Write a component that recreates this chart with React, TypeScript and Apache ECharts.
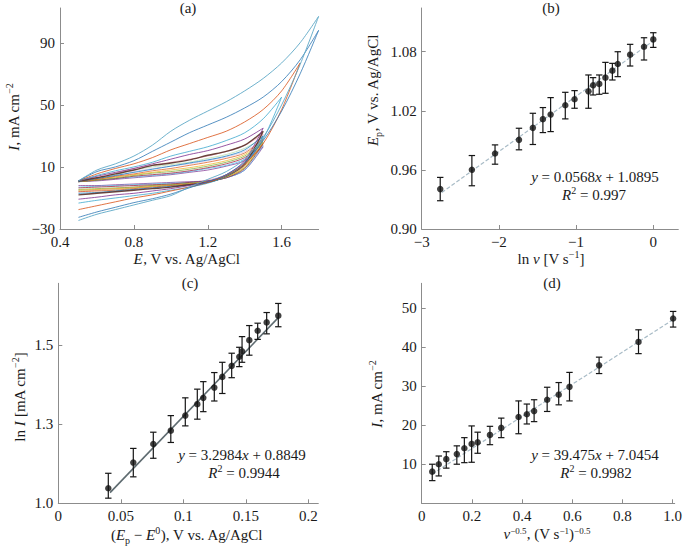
import React, { useEffect, useRef } from 'react';
import * as echarts from 'echarts';

const FONT = "'Liberation Serif', 'Times New Roman', serif";
const TXT = '#1a1a1a';
const AXC = '#8c8c8c';

// ---------- Panel (a): cyclic voltammograms ----------
const E_GRID = [0.5, 0.6, 0.7, 0.8, 0.9, 1.0, 1.1, 1.2, 1.3, 1.4, 1.5, 1.6, 1.7, 1.8];
const cv1Fwd = [1, 8, 12, 17, 24, 33, 40, 46, 52, 59, 67, 77, 90, 107];
const cv1Rev = [107, 76, 50, 29, 15, 7, 2, -3, -8.5, -11.5, -14.5, -17.5, -20.5, -24.5];
const cv2Fwd = [1, 7, 10, 14, 20, 26, 32, 37, 42, 48, 55, 65, 79, 98];
const cv2Rev = [98, 70, 46, 27, 13, 5, 0.5, -3.5, -7.5, -10.5, -13, -16, -19, -22.5];
const cv3Fwd = [1, 5.5, 9, 12, 16, 21, 25, 29, 33, 39, 47, 59, 77];
const cv3Rev = [77, 47, 25, 12, 4.5, 0, -3, -5.5, -8, -10, -12.5, -15, -17.5];
const cv4Fwd = [1, 4.5, 7.5, 10, 13, 17, 20, 23, 27, 32, 41, 55];
const cv4Rev = [55, 28, 12, 4, -0.5, -3, -5, -7, -8.5, -10, -11.5, -13.3];
const cv5Fwd = [1, 4, 6.5, 9, 12, 15, 18, 20.5, 24, 28, 35];
const cv5Rev = [35, 14, 5, 0.5, -2, -4, -5.5, -7, -8, -9.5, -10.8];
const cv6Fwd = [1, 3, 5.5, 8, 11, 12.5, 14.5, 17.5, 20, 24, 33];
const cv6Rev = [33, 12, 4, 0, -1.5, -3, -4, -5, -6, -7, -8];
const cv7Fwd = [0.5, 2.5, 4.5, 6.5, 8.5, 10.5, 12.5, 14.5, 17, 21, 30];
const cv7Rev = [30, 12, 4, 0, -1.5, -2.5, -3.5, -4.5, -5.5, -6.5, -7];
const cv8Fwd = [0.5, 2, 4, 5.5, 7.5, 9, 11, 13, 15.5, 19, 28];
const cv8Rev = [28, 11, 4, 0.5, -1, -2, -3, -4, -5, -5.5, -6];
const cv9Fwd = [0.5, 2, 3.5, 5, 6.5, 8, 9.5, 11.5, 14, 18, 27];
const cv9Rev = [27, 10, 3.5, 0.5, -1, -2, -2.5, -3.5, -4, -4.5, -5];
const cv10Fwd = [0.5, 1.5, 3, 4.5, 6, 7, 8.5, 10.5, 13, 17, 26];
const cv10Rev = [26, 9.5, 3.5, 0.5, -0.5, -1.5, -2, -3, -3.5, -4, -4.5];
const cv11Fwd = [0.5, 1.5, 2.5, 4, 5, 6, 7.5, 9.5, 12, 16, 25];
const cv11Rev = [25, 9, 3, 1, 0, -1, -1.5, -2, -2.5, -3, -3.5];
const cv12Fwd = [0.5, 1.5, 2.5, 3.5, 4.5, 5.5, 7, 9, 11, 15, 24];
const cv12Rev = [24, 8, 3, 1, 0, -0.5, -1, -1.5, -2, -2.5, -3];
const cv13Fwd = [0.5, 1, 2, 3, 4, 5, 6.5, 8, 10.5, 14, 23];
const cv13Rev = [23, 8, 3, 1, 0.5, 0, -0.5, -1, -1.5, -2, -2];
const cv14Fwd = [1, 3, 6, 9, 11, 13, 15, 17, 20, 24, 31];
const cv14Rev = [31, 13, 5, 1.5, 0, -1, -2, -3, -4, -5, -6];
const cv15Fwd = [1, 2.5, 5, 8, 10, 11.5, 13, 15.5, 18, 22, 29];
const cv15Rev = [29, 11, 4, 1, -0.5, -1.5, -2.5, -3.5, -4.5, -5, -5.5];
const cv16Fwd = [1, 2, 4, 7, 9, 10.5, 12, 14, 16.5, 20, 28];
const cv16Rev = [28, 10.5, 3.5, 0.8, -0.5, -1.2, -2, -3, -3.8, -4.5, -5];

const CV_LIST: [number[], number[], string, number][] = [
  [cv16Fwd, cv16Rev, '#d6c7e6', 0.9],
  [cv15Fwd, cv15Rev, '#b9dcb0', 0.9],
  [cv14Fwd, cv14Rev, '#f2a7b8', 0.9],
  [cv13Fwd, cv13Rev, '#7E2F8E', 0.8],
  [cv12Fwd, cv12Rev, '#4DBEEE', 0.8],
  [cv11Fwd, cv11Rev, '#A2142F', 0.8],
  [cv10Fwd, cv10Rev, '#77AC30', 0.8],
  [cv9Fwd, cv9Rev, '#EDB120', 0.8],
  [cv8Fwd, cv8Rev, '#D95319', 0.8],
  [cv7Fwd, cv7Rev, '#0072BD', 0.8],
  [cv6Fwd, cv6Rev, '#5a3028', 1.4],
  [cv5Fwd, cv5Rev, '#7E2F8E', 0.9],
  [cv4Fwd, cv4Rev, '#3fa9cf', 0.9],
  [cv3Fwd, cv3Rev, '#D95319', 0.9],
  [cv2Fwd, cv2Rev, '#2f78b5', 0.9],
  [cv1Fwd, cv1Rev, '#5ea8c6', 1.0],
];

const A_X_TICKS = [0.4, 0.8, 1.2, 1.6];
const A_Y_TICKS = [-30, 10, 50, 90];

// ---------- Panel (b) ----------
const bX = [-2.76, -2.35, -2.05, -1.74, -1.56, -1.43, -1.33, -1.14, -1.02, -0.84, -0.78, -0.7, -0.62, -0.53, -0.46, -0.3, -0.12, 0.0];
const bY = [0.9405, 0.9601, 0.9767, 0.9905, 1.0027, 1.0115, 1.0162, 1.0257, 1.0317, 1.0398, 1.0459, 1.0473, 1.0537, 1.0608, 1.0675, 1.077, 1.0851, 1.0925];
const bHi = [0.9524, 0.9746, 0.9854, 1.0023, 1.0175, 1.0233, 1.0334, 1.0388, 1.0405, 1.0564, 1.0537, 1.0564, 1.0692, 1.0682, 1.08, 1.0875, 1.0942, 1.0993];
const bLo = [0.9287, 0.9439, 0.9658, 0.9804, 0.9858, 0.9979, 0.9989, 1.0118, 1.0226, 1.0226, 1.0361, 1.0368, 1.0378, 1.0513, 1.0547, 1.0655, 1.0716, 1.0844];
const bFitX = [-2.74, 0.0];
const bFitY = [0.937, 1.091];
const B_X_TICKS = [-3, -2, -1, 0];
const B_Y_TICKS = [0.9, 0.96, 1.02, 1.08];

// ---------- Panel (c) ----------
const cX = [0.04, 0.06, 0.076, 0.09, 0.1016, 0.1112, 0.116, 0.1248, 0.1312, 0.1387, 0.1448, 0.147, 0.1528, 0.1595, 0.1667, 0.176];
const cY = [1.138, 1.203, 1.25, 1.284, 1.322, 1.351, 1.367, 1.393, 1.42, 1.448, 1.471, 1.485, 1.513, 1.537, 1.558, 1.575];
const cHi = [1.176, 1.239, 1.28, 1.322, 1.367, 1.389, 1.408, 1.431, 1.457, 1.48, 1.495, 1.522, 1.55, 1.556, 1.583, 1.606];
const cLo = [1.113, 1.167, 1.214, 1.254, 1.296, 1.313, 1.332, 1.359, 1.378, 1.418, 1.446, 1.457, 1.475, 1.515, 1.529, 1.547];
const cFitX = [0.0414, 0.176];
const cFitY = [1.127, 1.57];
const C_X_TICKS = [0, 0.05, 0.1, 0.15, 0.2];
const C_Y_TICKS = [1.1, 1.3, 1.5];
const C_Y_LABELS = ['1.0', '1.3', '1.5'];

// ---------- Panel (d) ----------
const dX = [0.042, 0.068, 0.098, 0.14, 0.17, 0.199, 0.223, 0.272, 0.317, 0.386, 0.419, 0.448, 0.5, 0.546, 0.589, 0.707, 0.864, 1.002];
const dY = [8.1, 10.0, 11.3, 12.6, 14.1, 15.2, 15.6, 17.5, 19.3, 22.1, 22.8, 23.6, 26.5, 27.8, 29.8, 35.3, 41.3, 47.3];
const dHi = [10.0, 12.1, 13.2, 14.7, 16.8, 19.8, 18.2, 19.7, 21.8, 26.2, 25.4, 26.5, 29.7, 30.9, 33.5, 37.4, 44.4, 49.1];
const dLo = [5.8, 7.0, 9.0, 10.0, 10.4, 10.5, 12.8, 15.0, 16.8, 17.8, 20.3, 20.9, 23.5, 25.2, 26.2, 33.2, 38.3, 45.1];
const dFitX = [0.042, 1.002];
const dFitY = [7.5, 47.0];
const D_X_TICKS = [0, 0.2, 0.4, 0.6, 0.8, 1.0];
const D_Y_TICKS = [10, 20, 30, 40, 50];

const minus = (s: string) => s.replace('-', '\u2212');

const RICH = {
  n: { fontFamily: FONT, fontSize: 15, color: TXT, lineHeight: 20, verticalAlign: 'middle' },
  i: { fontFamily: FONT, fontSize: 15, fontStyle: 'italic', color: TXT, lineHeight: 20, verticalAlign: 'middle' },
  sup: { fontFamily: FONT, fontSize: 10, color: TXT, lineHeight: 10, verticalAlign: 'top' },
  sub: { fontFamily: FONT, fontSize: 10, color: TXT, lineHeight: 10, verticalAlign: 'bottom' },
};

const RICH_TIGHT = {
  n: { fontFamily: FONT, fontSize: 15, color: TXT, lineHeight: 15, verticalAlign: 'bottom' },
  i: { fontFamily: FONT, fontSize: 15, fontStyle: 'italic', color: TXT, lineHeight: 15, verticalAlign: 'bottom' },
  sup: { fontFamily: FONT, fontSize: 9, color: TXT, lineHeight: 9, verticalAlign: 'top' },
};

function txt(text: string, x: number, y: number, rot = 0, rich: any = RICH) {
  return {
    type: 'text',
    x,
    y,
    rotation: rot,
    style: {
      text,
      rich,
      fontFamily: FONT,
      fontSize: 15,
      fill: TXT,
      align: 'center',
      verticalAlign: 'middle',
    },
  };
}

function xAxisCfg(idx: number, min: number, max: number, ticks: number[], fmt: (v: number) => string) {
  return {
    gridIndex: idx,
    type: 'value',
    min,
    max,
    axisLine: { show: true, onZero: false, lineStyle: { color: AXC, width: 1 } },
    axisTick: { show: true, inside: true, length: 4, customValues: ticks, lineStyle: { color: AXC } },
    axisLabel: { customValues: ticks, formatter: fmt, margin: 5, color: TXT, fontFamily: FONT, fontSize: 15 },
    splitLine: { show: false },
  };
}

function yAxisCfg(idx: number, min: number, max: number, ticks: number[], fmt: (v: number) => string) {
  return {
    gridIndex: idx,
    type: 'value',
    min,
    max,
    axisLine: { show: true, onZero: false, lineStyle: { color: AXC, width: 1 } },
    axisTick: { show: true, inside: true, length: 4, customValues: ticks, lineStyle: { color: AXC } },
    axisLabel: { customValues: ticks, formatter: fmt, margin: 5, color: TXT, fontFamily: FONT, fontSize: 15 },
    splitLine: { show: false },
  };
}

function errSeries(idx: number, xs: number[], lo: number[], hi: number[]) {
  return {
    type: 'custom',
    xAxisIndex: idx,
    yAxisIndex: idx,
    data: xs.map((x, k) => [x, lo[k], hi[k]]),
    encode: { x: 0, y: [1, 2] },
    z: 3,
    renderItem: (params: any, api: any) => {
      const x = api.value(0);
      const p1 = api.coord([x, api.value(1)]);
      const p2 = api.coord([x, api.value(2)]);
      const c = 3.2;
      const style = { stroke: '#151515', lineWidth: 1.2 };
      return {
        type: 'group',
        children: [
          { type: 'line', shape: { x1: p1[0], y1: p1[1], x2: p2[0], y2: p2[1] }, style },
          { type: 'line', shape: { x1: p1[0] - c, y1: p1[1], x2: p1[0] + c, y2: p1[1] }, style },
          { type: 'line', shape: { x1: p2[0] - c, y1: p2[1], x2: p2[0] + c, y2: p2[1] }, style },
        ],
      };
    },
  };
}

function pointSeries(idx: number, xs: number[], ys: number[]) {
  return {
    type: 'scatter',
    xAxisIndex: idx,
    yAxisIndex: idx,
    symbol: 'circle',
    symbolSize: 6.5,
    itemStyle: { color: '#111' },
    data: xs.map((x, k) => [x, ys[k]]),
    z: 4,
  };
}

function fitSeries(idx: number, xs: number[], ys: number[], color: string, width: number, type: any) {
  return {
    type: 'line',
    xAxisIndex: idx,
    yAxisIndex: idx,
    showSymbol: false,
    symbol: 'none',
    data: xs.map((x, k) => [x, ys[k]]),
    lineStyle: { color, width, type },
    z: 2,
  };
}

export default function App() {
  const ref = useRef<HTMLDivElement>(null);
  useEffect(() => {
    if (!ref.current) return;
    const chart = echarts.init(ref.current, undefined, { renderer: 'svg' });

    const cvSeries = CV_LIST.map(([fwd, rev, color, w]) => {
      const n = fwd.length;
      const pts = fwd.map((v, k) => [E_GRID[k], v]).concat(rev.map((v, k) => [E_GRID[n - 1 - k], v]));
      return {
        type: 'line',
        xAxisIndex: 0,
        yAxisIndex: 0,
        data: pts,
        showSymbol: false,
        symbol: 'none',
        smooth: 0.3,
        lineStyle: { color, width: w, opacity: 0.9 },
      };
    });

    const option: any = {
      animation: false,
      backgroundColor: '#ffffff',
      grid: [
        { left: 60, top: 8, width: 258.6, height: 221 },
        { left: 421.7, top: 8, width: 256.6, height: 221 },
        { left: 58.3, top: 283.3, width: 260, height: 220 },
        { left: 421.7, top: 283.3, width: 256.6, height: 220 },
      ],
      xAxis: [
        xAxisCfg(0, 0.4, 1.8, A_X_TICKS, (v) => v.toFixed(1)),
        xAxisCfg(1, -3, 0.324, B_X_TICKS, (v) => minus(String(v))),
        xAxisCfg(2, 0, 0.208, C_X_TICKS, (v) => String(v)),
        xAxisCfg(3, 0, 1.0083, D_X_TICKS, (v) => (v === 0 ? '0' : v.toFixed(1))),
      ],
      yAxis: [
        yAxisCfg(0, -30, 112.4, A_Y_TICKS, (v) => minus(String(v))),
        yAxisCfg(1, 0.9, 1.1244, B_Y_TICKS, (v) => v.toFixed(2)),
        yAxisCfg(2, 1.1, 1.657, C_Y_TICKS, (v) => C_Y_LABELS[C_Y_TICKS.indexOf(v)] ?? v.toFixed(1)),
        yAxisCfg(3, 0, 56.3, D_Y_TICKS, (v) => String(v)),
      ],
      series: [
        ...cvSeries,
        fitSeries(1, bFitX, bFitY, '#a9bcc7', 1.2, [4, 2]),
        errSeries(1, bX, bLo, bHi),
        pointSeries(1, bX, bY),
        fitSeries(2, cFitX, cFitY, '#5e6b70', 1.6, 'solid'),
        errSeries(2, cX, cLo, cHi),
        pointSeries(2, cX, cY),
        fitSeries(3, dFitX, dFitY, '#a9bcc7', 1.2, [4, 2]),
        errSeries(3, dX, dLo, dHi),
        pointSeries(3, dX, dY),
      ],
      graphic: [
        txt('{n|(a)}', 188, 8),
        txt('{n|(b)}', 551, 8),
        txt('{n|(c)}', 190, 283),
        txt('{n|(d)}', 552, 283),
        txt('{i|E}{n|, V vs. Ag/AgCl}', 187, 258.5),
        txt('{i|I}{n|, mA cm}{sup|\u22122}', 14, 117, Math.PI / 2),
        txt('{n|ln }{i|v}{n| [V s}{sup|\u22121}{n|]}', 551, 259),
        txt('{i|E}{sub|p}{n|, V vs. Ag/AgCl}', 373, 90, Math.PI / 2),
        txt('{n|(}{i|E}{sub|p}{n| \u2212 }{i|E}{sup|0}{n|), V vs. Ag/AgCl}', 187, 535),
        txt('{n|ln }{i|I}{n| [mA cm}{sup|\u22122}{n|]}', 20, 397, Math.PI / 2),
        txt('{i|v}{sup|\u22120.5}{n|, (V s}{sup|\u22121}{n|)}{sup|\u22120.5}', 547, 534, 0, RICH_TIGHT),
        txt('{i|I}{n|, mA cm}{sup|\u22122}', 377, 394, Math.PI / 2),
        txt('{i|y}{n| = 0.0568}{i|x}{n| + 1.0895}', 595, 177),
        txt('{i|R}{sup|2}{n| = 0.997}', 594, 195),
        txt('{i|y}{n| = 3.2984}{i|x}{n| + 0.8849}', 242, 455),
        txt('{i|R}{sup|2}{n| = 0.9944}', 244, 473),
        txt('{i|y}{n| = 39.475}{i|x}{n| + 7.0454}', 595, 455),
        txt('{i|R}{sup|2}{n| = 0.9982}', 596, 473),
      ],
    };
    chart.setOption(option);
    return () => chart.dispose();
  }, []);

  return (
    <div
      ref={ref}
      style={{ position: 'fixed', left: 0, top: 0, width: 685, height: 546, background: '#fff' }}
    />
  );
}
